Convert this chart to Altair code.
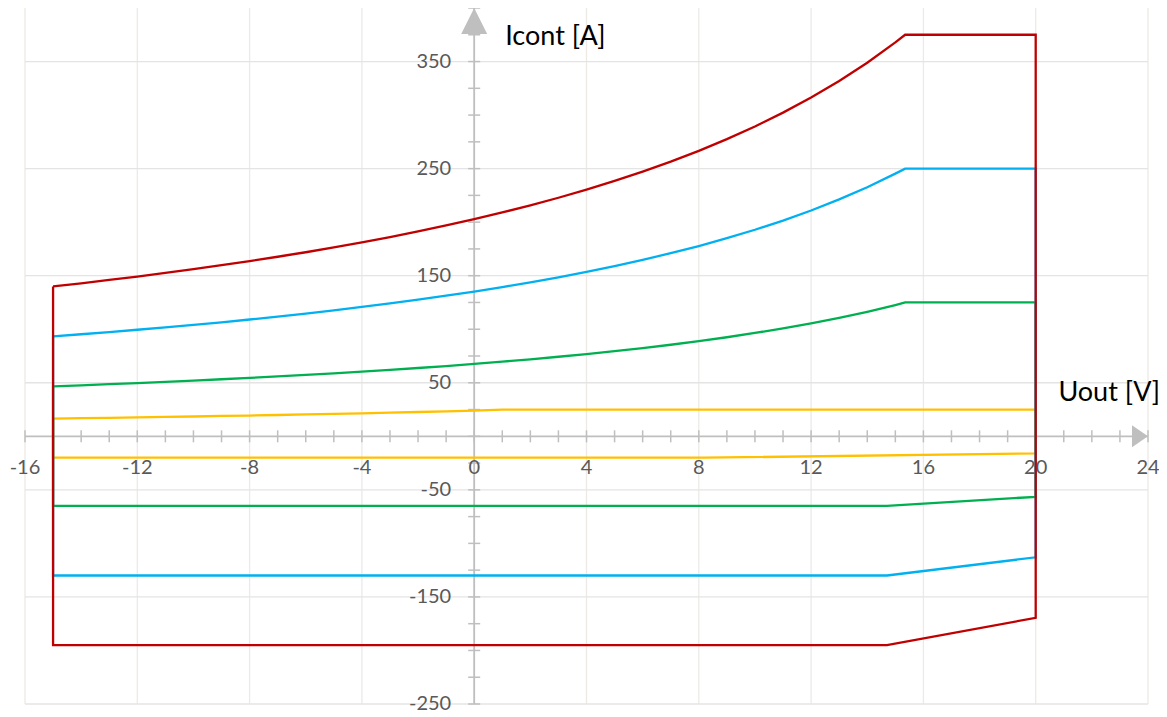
import altair as alt
import pandas as pd

# ---------------- data ----------------
top_x = [-15, -14, -13, -12, -11, -10, -9, -8, -7, -6, -5, -4, -3, -2, -1, 0,
         1, 2, 3, 4, 5, 6, 7, 8, 9, 10, 11, 12, 13, 14, 15, 15.35]

red_top = [140.0, 142.9, 146.0, 149.2, 152.6, 156.1, 159.8, 163.6, 167.7, 171.9,
           176.4, 181.1, 186.1, 191.4, 196.9, 202.8, 209.1, 215.7, 222.8, 230.4,
           238.5, 247.2, 256.5, 266.6, 277.5, 289.4, 302.3, 316.4, 331.9, 348.9,
           367.9, 375.0]
blue_top = [93.3, 95.3, 97.3, 99.5, 101.7, 104.1, 106.5, 109.1, 111.8, 114.6,
            117.6, 120.8, 124.1, 127.6, 131.3, 135.2, 139.4, 143.8, 148.5, 153.6,
            159.0, 164.8, 171.0, 177.7, 185.0, 192.9, 201.5, 210.9, 221.3, 232.6,
            245.3, 250.0]
green_top = [46.7, 47.6, 48.7, 49.7, 50.9, 52.0, 53.3, 54.5, 55.9, 57.3,
             58.8, 60.4, 62.0, 63.8, 65.6, 67.6, 69.7, 71.9, 74.3, 76.8,
             79.5, 82.4, 85.5, 88.9, 92.5, 96.5, 100.8, 105.5, 110.6, 116.3,
             122.6, 125.0]
yellow_top = [16.5, 16.9, 17.3, 17.7, 18.1, 18.5, 19.0, 19.4, 19.9, 20.4,
              20.9, 21.5, 22.1, 22.7, 23.3, 24.0, 25.0, 25.0, 25.0, 25.0,
              25.0, 25.0, 25.0, 25.0, 25.0, 25.0, 25.0, 25.0, 25.0, 25.0,
              25.0, 25.0]

x_left = -15
x_right = 20

# bottom branch: flat value, x where it starts to rise, value at x_right
red_bottom = [-195, 14.7, -169.5]
blue_bottom = [-130, 14.7, -113]
green_bottom = [-65, 14.7, -56.5]
yellow_bottom = [-20, 8.2, -16]

series = [  # drawn in this order (red on top)
    ("yellow", yellow_top, yellow_bottom, "#FFC000"),
    ("green", green_top, green_bottom, "#00B050"),
    ("blue", blue_top, blue_bottom, "#00B0F0"),
    ("red", red_top, red_bottom, "#C00000"),
]

x_tick_labels = [-16, -12, -8, -4, 0, 4, 8, 12, 16, 20, 24]
y_tick_labels = [350, 250, 150, 50, -50, -150, -250]
x_minor_ticks = list(range(-16, 25))
y_minor_ticks = list(range(-250, 401, 25))
x_domain = [-16, 24]
y_domain = [-250, 400]

# ---------------- styles ----------------
FONT = "Lato"
AXIS_COLOR = "#BFBFBF"
LABEL_COLOR = "#595959"

xs = alt.Scale(domain=x_domain, nice=False, zero=False)
ys = alt.Scale(domain=y_domain, nice=False, zero=False)


def X(field=None, datum=None):
    if datum is not None:
        return alt.X(datum=datum, type="quantitative", scale=xs, axis=None)
    return alt.X(field, type="quantitative", scale=xs, axis=None)


def Y(field=None, datum=None):
    if datum is not None:
        return alt.Y(datum=datum, type="quantitative", scale=ys, axis=None)
    return alt.Y(field, type="quantitative", scale=ys, axis=None)


layers = []

# grid
vgrid = alt.Chart(pd.DataFrame({"gx": x_tick_labels})).mark_rule(
    color="#EDEAE5", strokeWidth=1.3
).encode(x=X("gx"), y=Y(datum=y_domain[0]), y2=alt.Y2(datum=y_domain[1]))
hgrid = alt.Chart(pd.DataFrame({"gy": y_tick_labels})).mark_rule(
    color="#E4E4E4", strokeWidth=1.3
).encode(y=Y("gy"), x=X(datum=x_domain[0]), x2=alt.X2(datum=x_domain[1]))
layers += [vgrid, hgrid]

# axis lines
xaxis = alt.Chart(pd.DataFrame({"a": [0]})).mark_rule(
    color=AXIS_COLOR, strokeWidth=1.8
).encode(x=X(datum=x_domain[0]), x2=alt.X2(datum=x_domain[1]), y=Y(datum=0))
yaxis = alt.Chart(pd.DataFrame({"a": [0]})).mark_rule(
    color=AXIS_COLOR, strokeWidth=1.8
).encode(y=Y(datum=y_domain[0]), y2=alt.Y2(datum=y_domain[1]), x=X(datum=0))
layers += [xaxis, yaxis]

# crossing ticks
xt = alt.Chart(pd.DataFrame({"t": x_minor_ticks})).mark_rule(
    color=AXIS_COLOR, strokeWidth=1.5, yOffset=-6, y2Offset=6
).encode(x=X("t"), y=Y(datum=0), y2=alt.Y2(datum=0))
yt = alt.Chart(pd.DataFrame({"t": y_minor_ticks})).mark_rule(
    color=AXIS_COLOR, strokeWidth=1.5, xOffset=-6, x2Offset=6
).encode(y=Y("t"), x=X(datum=0), x2=alt.X2(datum=0))
layers += [xt, yt]

# arrow heads
x_arrow = alt.Chart(pd.DataFrame({"a": [0]})).mark_point(
    shape="M 0 0 L -2 -1.375 L -2 1.375 Z", size=256, filled=True,
    color=AXIS_COLOR, opacity=1, strokeWidth=0
).encode(x=X(datum=x_domain[1]), y=Y(datum=0))
y_arrow = alt.Chart(pd.DataFrame({"a": [0]})).mark_point(
    shape="M 0 0 L 1 2 L -1 2 Z", size=676, filled=True,
    color=AXIS_COLOR, opacity=1, strokeWidth=0
).encode(x=X(datum=0), y=Y(datum=y_domain[1]))
layers += [x_arrow, y_arrow]

# tick labels (plain hyphen-minus as in the original)
xlab = alt.Chart(pd.DataFrame({"v": x_tick_labels,
                               "s": [str(v) for v in x_tick_labels]})).mark_text(
    font=FONT, fontSize=20, color=LABEL_COLOR, align="center",
    baseline="middle", dy=32
).encode(x=X("v"), y=Y(datum=0), text="s:N")
ylab = alt.Chart(pd.DataFrame({"v": y_tick_labels,
                               "s": [str(v) for v in y_tick_labels]})).mark_text(
    font=FONT, fontSize=20, color=LABEL_COLOR, align="right",
    baseline="middle", dx=-23
).encode(y=Y("v"), x=X(datum=0), text="s:N")
layers += [xlab, ylab]

# axis titles
xtitle = alt.Chart(pd.DataFrame({"t": ["Uout [V]"]})).mark_text(
    font=FONT, fontSize=27, color="#000000", align="right",
    baseline="middle", dx=12, dy=-43
).encode(x=X(datum=x_domain[1]), y=Y(datum=0), text="t:N")
ytitle = alt.Chart(pd.DataFrame({"t": ["Icont [A]"]})).mark_text(
    font=FONT, fontSize=27, color="#000000", align="left",
    baseline="middle", dx=31, dy=29
).encode(x=X(datum=0), y=Y(datum=y_domain[1]), text="t:N")
layers += [xtitle, ytitle]

# data outlines
for name, top, bottom, col in series:
    xs_list, ys_list = [], []
    xs_list += top_x
    ys_list += top
    xs_list += [x_right, x_right, bottom[1], x_left, x_left]
    ys_list += [top[-1], bottom[2], bottom[0], bottom[0], top[0]]
    df = pd.DataFrame({"x": xs_list, "y": ys_list, "o": list(range(len(xs_list)))})
    layers.append(
        alt.Chart(df).mark_line(color=col, strokeWidth=2.3, strokeJoin="miter").encode(
            x=X("x"), y=Y("y"), order="o:Q"
        )
    )

chart = alt.layer(*layers).properties(
    width=1123,
    height=696,
    autosize=alt.AutoSizeParams(type="none"),
    padding={"left": 17, "top": 0, "right": 11, "bottom": 10},
).configure_view(strokeWidth=0)

chart.save("out.html", embed_options={"renderer": "svg", "actions": False})
